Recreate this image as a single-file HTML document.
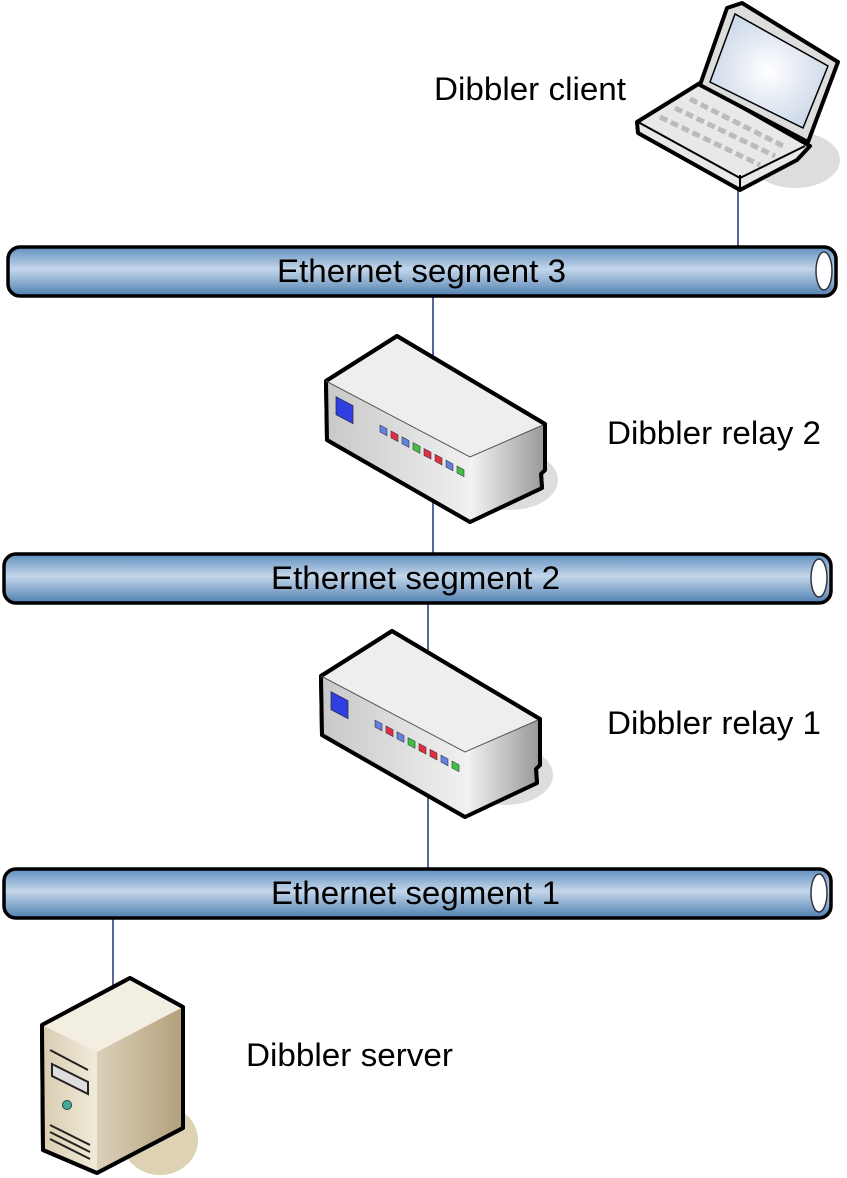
<!DOCTYPE html>
<html><head><meta charset="utf-8"><style>html,body{margin:0;padding:0;background:#fff}svg{display:block}text{font-family:"Liberation Sans",sans-serif;font-size:32px;fill:#000}</style></head>
<body>
<svg width="847" height="1178" viewBox="0 0 847 1178" xmlns="http://www.w3.org/2000/svg">
<defs>
<linearGradient id="pipe" x1="0" y1="0" x2="0" y2="1">
<stop offset="0" stop-color="#5f8fbf"/><stop offset="0.45" stop-color="#c4d6ea"/><stop offset="1" stop-color="#4f7fb0"/></linearGradient>
<linearGradient id="gfront" x1="0" y1="0" x2="1" y2="0"><stop offset="0" stop-color="#c8c8c8"/><stop offset="1" stop-color="#f0f0f0"/></linearGradient>
<linearGradient id="gside" x1="0" y1="0" x2="1" y2="0"><stop offset="0" stop-color="#f4f4f4"/><stop offset="1" stop-color="#9a9a9a"/></linearGradient>
<linearGradient id="sfront" x1="0" y1="0" x2="1" y2="0"><stop offset="0" stop-color="#d8ccb0"/><stop offset="1" stop-color="#f2ebdb"/></linearGradient>
<linearGradient id="sside" x1="0" y1="0" x2="1" y2="0"><stop offset="0" stop-color="#f5efe2"/><stop offset="1" stop-color="#b3a07a"/></linearGradient>
<radialGradient id="scr" cx="0.5" cy="0.5" r="0.6"><stop offset="0" stop-color="#ffffff"/><stop offset="1" stop-color="#c6d3e6"/></radialGradient>
<g id="relay">
<ellipse cx="510" cy="480" rx="48" ry="30" fill="#ddd"/>
<polygon points="397,336 545,424 545,470 541,474 542,488 470,522 327,440 326,381" fill="#eee" stroke="#000" stroke-width="4" stroke-linejoin="round"/>
<polygon points="326,381 470,457 470,522 327,440" fill="url(#gfront)"/>
<polygon points="470,457 543,425 543,488 470,522" fill="url(#gside)"/>
<polygon points="397,336 545,424 545,470 541,474 542,488 470,522 327,440 326,381" fill="none" stroke="#000" stroke-width="4" stroke-linejoin="round"/>
<polyline points="326,381 470,457 543,425" fill="none" stroke="#555" stroke-width="1"/>
<rect x="336" y="398" width="17" height="18" fill="#3040e0" stroke="#223" stroke-width="0.7" transform="skewY(28) translate(0,-180)"/>
<g stroke="#334" stroke-width="0.6" transform="skewY(28) translate(0,-205)">
<rect x="380" y="428" width="7" height="7" fill="#6680dd"/><rect x="391" y="428" width="7" height="7" fill="#e03040"/><rect x="402" y="428" width="7" height="7" fill="#6680dd"/><rect x="413" y="428" width="7" height="7" fill="#40c040"/><rect x="424" y="428" width="7" height="7" fill="#e03040"/><rect x="435" y="428" width="7" height="7" fill="#e03040"/><rect x="446" y="428" width="7" height="7" fill="#6680dd"/><rect x="457" y="428" width="7" height="7" fill="#40c040"/></g>
</g>
</defs>
<g stroke="#223377" stroke-width="1.5">
<line x1="738" y1="185" x2="738" y2="246"/>
<line x1="433" y1="296" x2="433" y2="553"/>
<line x1="428" y1="604" x2="428" y2="868"/>
<line x1="113" y1="919" x2="113" y2="985"/>
</g>
<ellipse cx="795" cy="160" rx="45" ry="28" fill="#ddd"/>
<polygon points="637,122 700,83 810,146 797,160 740,190 638,133" fill="#e8e8e8" stroke="#000" stroke-width="4" stroke-linejoin="round"/>
<g stroke="#bbb" stroke-width="5" stroke-dasharray="8,4">
<line x1="660" y1="117" x2="760" y2="165"/>
<line x1="675" y1="108" x2="775" y2="156"/>
<line x1="690" y1="99" x2="785" y2="147"/>
</g>
<polygon points="700,85 727,8 742,3 838,62 808,142" fill="#ddd" stroke="#000" stroke-width="4" stroke-linejoin="round"/>
<polygon points="710,82 735,14 828,66 803,128" fill="url(#scr)" stroke="#000" stroke-width="1.5"/>
<polyline points="638,122 740,178 805,146" fill="none" stroke="#000" stroke-width="2"/>
<line x1="740" y1="175" x2="740" y2="190" stroke="#000" stroke-width="2"/>
<text x="434" y="100" textLength="192" lengthAdjust="spacingAndGlyphs">Dibbler client</text>
<g stroke="#000" stroke-width="3.5">
<rect x="8" y="247" width="828" height="49" rx="12" fill="url(#pipe)"/>
<rect x="4" y="554" width="827" height="49" rx="12" fill="url(#pipe)"/>
<rect x="4" y="869" width="827" height="49" rx="12" fill="url(#pipe)"/>
</g>
<g fill="#fff" stroke="#334" stroke-width="1.5">
<ellipse cx="824" cy="271" rx="8" ry="19"/>
<ellipse cx="819" cy="578" rx="8" ry="19"/>
<ellipse cx="819" cy="893" rx="8" ry="19"/>
</g>
<text x="277" y="282" textLength="289" lengthAdjust="spacingAndGlyphs">Ethernet segment 3</text>
<text x="271" y="589" textLength="289" lengthAdjust="spacingAndGlyphs">Ethernet segment 2</text>
<text x="271" y="904" textLength="289" lengthAdjust="spacingAndGlyphs">Ethernet segment 1</text>
<use href="#relay"/>
<use href="#relay" transform="translate(-5,295)"/>
<text x="607" y="444" textLength="214" lengthAdjust="spacingAndGlyphs">Dibbler relay 2</text>
<text x="607" y="734" textLength="214" lengthAdjust="spacingAndGlyphs">Dibbler relay 1</text>
<ellipse cx="160" cy="1140" rx="38" ry="35" fill="#ddd2b4"/>
<polygon points="130,978 183,1007 183,1128 97,1173 43,1150 42,1025" fill="url(#sside)" stroke="#000" stroke-width="4" stroke-linejoin="round"/>
<polygon points="42,1025 97,1052 97,1173 43,1150" fill="url(#sfront)"/>
<polygon points="130,978 183,1007 97,1052 42,1025" fill="#f3eee2"/>
<polygon points="130,978 183,1007 183,1128 97,1173 43,1150 42,1025" fill="none" stroke="#000" stroke-width="4" stroke-linejoin="round"/>
<path d="M50,1050 l38,20 M52,1064 l36,18 l0,12 l-36,-18z M50,1125 l40,20 M50,1132 l40,20 M50,1139 l40,20" stroke="#222" stroke-width="2" fill="#ddd"/>
<circle cx="67" cy="1105" r="4.5" fill="#4a9" stroke="#244" stroke-width="1"/>
<text x="246" y="1066" textLength="207" lengthAdjust="spacingAndGlyphs">Dibbler server</text>
</svg>
</body></html>
